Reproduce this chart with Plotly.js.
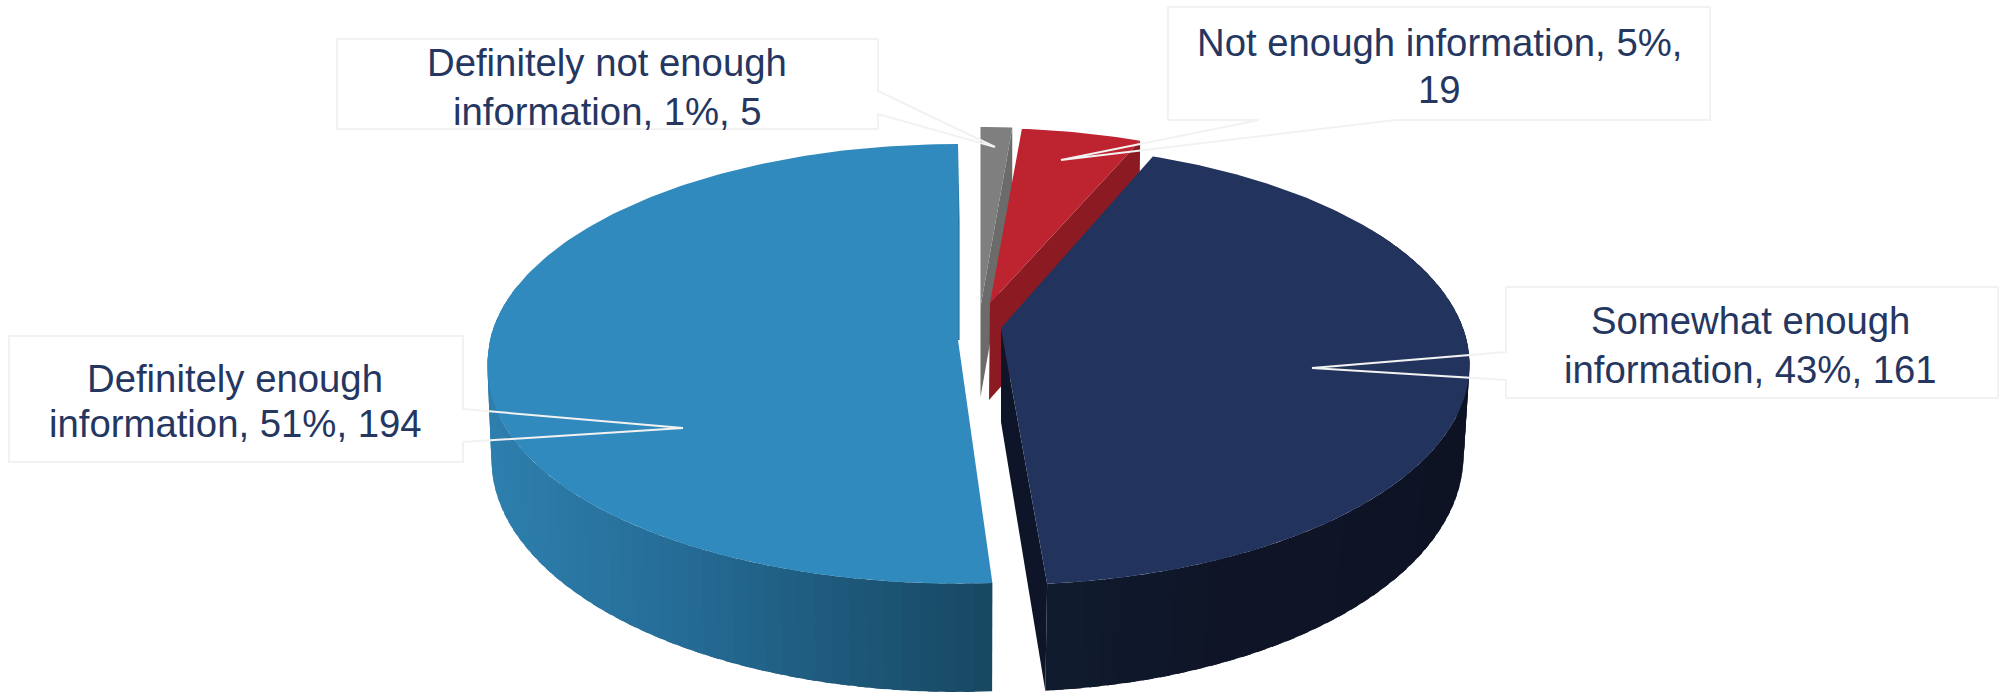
<!DOCTYPE html>
<html><head><meta charset="utf-8">
<script src="https://cdn.plot.ly/plotly-3.0.1.min.js"></script>
<style>html,body{margin:0;padding:0;background:#fff}#c{width:2003px;height:693px}</style></head>
<body><div id="c"></div>
<script>
const categories = ["Definitely not enough information","Not enough information","Somewhat enough information","Definitely enough information"];
const values = [5,19,161,194];
const percents = [1,5,43,51];
const wordsOnFirstLine = [3,4,2,2];

const topColors = ["#7F7F7F","#BE2430","#22345E","#318ABD"];
const cutColors = ["#6B6B69","#8C1A23","#0F1528","#2A7BA8"];

// projection of each exploded slice: top plane and bottom plane
const topPlanes = [
 {cx:980.5,cy:307,f:424,g:199,k:.105},
 {cx:990,cy:303,f:425,g:193,k:.105},
 {cx:1001,cy:328,f:462,g:214,k:.167},
 {cx:958,cy:340,f:468,g:216.6,k:.105,b:10.5}];
const botPlanes = [
 {cx:980.5,cy:397,f:424,g:199,k:.105},
 {cx:989,cy:400,f:425,g:200,k:.105},
 {cx:1001,cy:422,f:458,g:232,k:.14},
 {cx:958,cy:435,f:464,g:230,k:.105}];
const cutPlanes = [null,null,null,{cx:959.6,cy:340,f:0,g:120,k:0}];
const angleTweak = [[0,0],[0,0],[-.5,-.5],[.5,0]];
const wallFrom = [null,null,60,null], wallTo=[null,null,null,285];

const total = values.reduce((a,b)=>a+b,0);
const traces = [];
const rad = d=>d*Math.PI/180;
function pt(p,th){const u=Math.sin(rad(th)),v=-Math.cos(rad(th)),d=1-p.k*v;
  const bulge=(p.b&&v>0)?p.b*Math.sqrt(v)*(1-.85*v):0;
  return [p.cx+p.f*u/d,p.cy+p.g*v/d+bulge];}
function poly(pts,color){traces.push({type:"scatter",mode:"lines",x:pts.map(a=>a[0]),y:pts.map(a=>a[1]),fill:"toself",fillcolor:color,
  line:{color:color,width:0},hoverinfo:"skip",showlegend:false});}
function arc(p,a,b,step){const r=[];const n=Math.max(2,Math.ceil(Math.abs(b-a)/(step||1)));for(let i=0;i<=n;i++)r.push(pt(p,a+(b-a)*i/n));return r;}
function hex(c){return [1,3,5].map(i=>parseInt(c.substr(i,2),16));}
function mix(stops,x){let i=0;while(i<stops.length-2&&x>stops[i+1][0])i++;const [x0,c0]=stops[i],[x1,c1]=stops[i+1];
 const t=Math.min(1,Math.max(0,(x-x0)/(x1-x0)));const A=hex(c0),B=hex(c1);return "rgb("+A.map((v,j)=>Math.round(v+(B[j]-v)*t)).join(",")+")";}
const wallStops = {
 2:[[1040,"#101C30"],[1220,"#0F1527"],[1470,"#0E1324"]],
 3:[[490,"#2E7FAE"],[680,"#256C96"],[880,"#1C5474"],[992,"#174862"]]};

let cum=0;
values.forEach((val,i)=>{
  const a=cum/total*360+angleTweak[i][0]; cum+=val; const b=cum/total*360+angleTweak[i][1];
  const T=topPlanes[i],B=cutPlanes[i]||botPlanes[i],L=botPlanes[i];
  poly([[T.cx,T.cy],pt(T,b),pt(B,b),[B.cx,B.cy]],cutColors[i]);
  if(wallStops[i]){
    const s=wallFrom[i]===null?a:wallFrom[i], e=wallTo[i]===null?b:wallTo[i];
    const n=Math.ceil((e-s)/2);
    // strips run toward the x-dark end; each overlaps its neighbour so no seam shows
    for(let j=0;j<n;j++){
      const p=s+(e-s)*j/n,q=Math.min(e,s+(e-s)*(j+1)/n+1.2);
      const A=arc(T,p,q,.5),C=arc(L,p,q,.5).reverse();
      poly(A.concat(C),mix(wallStops[i],pt(T,s+(e-s)*(j+.5)/n)[0]));
    }
  }
  poly([[T.cx,T.cy]].concat(arc(T,a,b,1)),topColors[i]);
});

// label boxes with callouts, in chart units
const boxes = [
 {tx:607,ty:[62,111],path:"M337,39 L878,39 L878,91 L995,147 L878,114 L878,129 L337,129 Z"},
 {tx:1439,ty:[42,89],path:"M1168,7 L1710,7 L1710,120 L1395,120 L1061,160 L1259,120 L1168,120 Z"},
 {tx:1750.5,ty:[320,369],path:"M1506,287 L1998,287 L1998,398 L1506,398 L1506,380 L1312,368 L1506,352 Z"},
 {tx:235,ty:[378,423],path:"M9,336 L463,336 L463,409 L683,428 L463,442 L463,462 L9,462 Z"}];
const shapes = boxes.map(b=>({type:"path",path:b.path,xref:"x",yref:"y",layer:"above",line:{color:"#F2F2F2",width:2},fillcolor:"rgba(0,0,0,0)"}));
const annotations = [];
categories.forEach((c,i)=>{
  const words=(c+", "+percents[i]+"%, "+values[i]).split(" ");
  [words.slice(0,wordsOnFirstLine[i]).join(" "),words.slice(wordsOnFirstLine[i]).join(" ")].forEach((txt,l)=>{
    annotations.push({x:boxes[i].tx,y:boxes[i].ty[l],xref:"x",yref:"y",text:txt,showarrow:false,xanchor:"center",yanchor:"middle",align:"center",
      font:{family:"Liberation Sans, Arial, sans-serif",size:38.3,color:"#253761"}});
  });
});
Plotly.newPlot("c",traces,{
  width:2003,height:693,margin:{l:0,r:0,t:0,b:0},paper_bgcolor:"#fff",plot_bgcolor:"#fff",showlegend:false,hovermode:false,
  xaxis:{range:[0,2003],visible:false,fixedrange:true},
  yaxis:{range:[693,0],visible:false,fixedrange:true},
  shapes:shapes,annotations:annotations
},{displayModeBar:false,staticPlot:true});
</script></body></html>
